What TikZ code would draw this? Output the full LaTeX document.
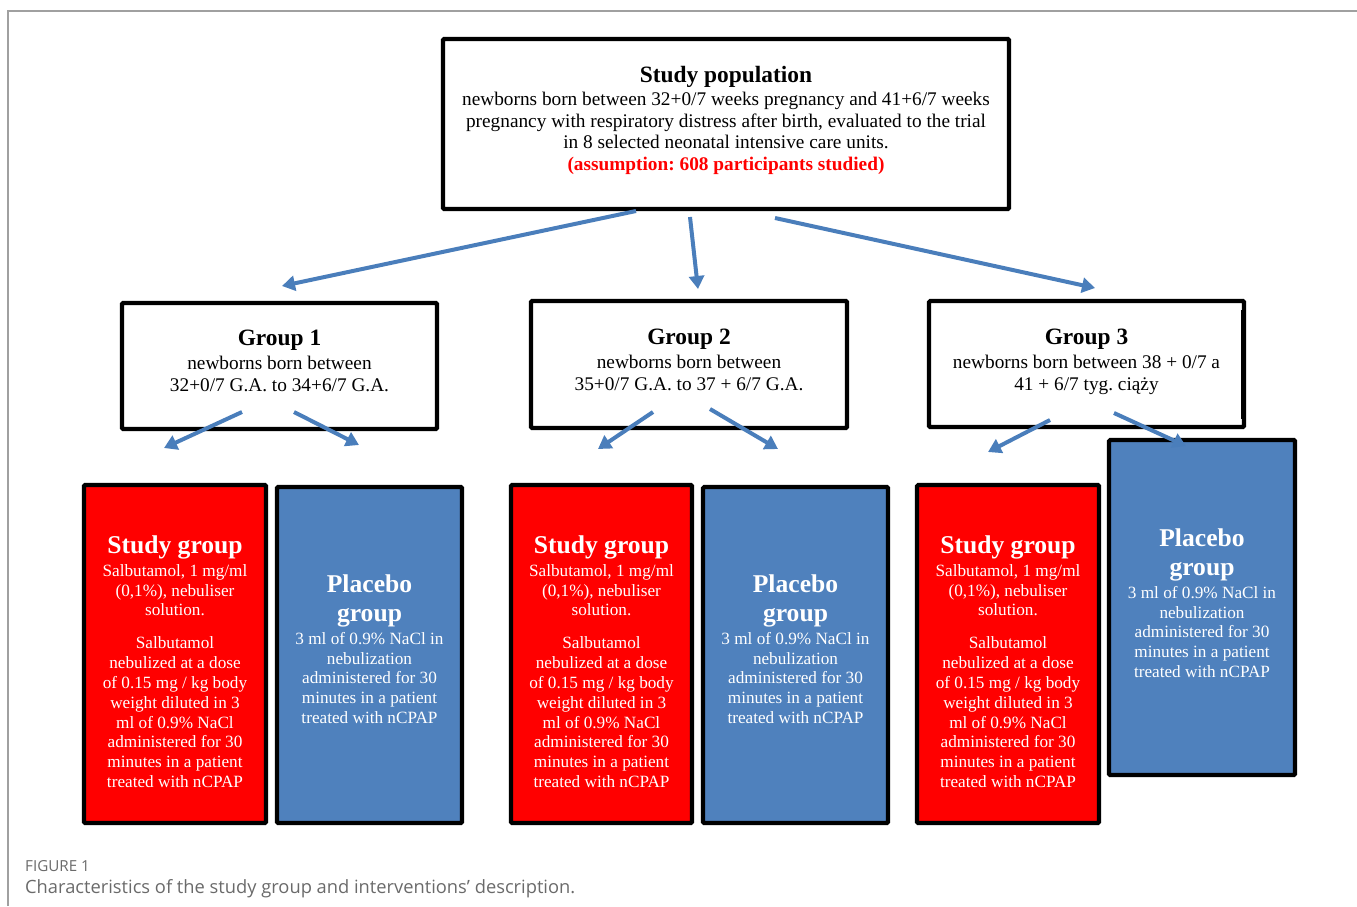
\documentclass[tikz,border=0pt]{standalone}
\usepackage{fontspec}
\setmainfont{Liberation Serif}
\newfontfamily\capfont{Open Sans}
\usetikzlibrary{arrows.meta,calc}
\definecolor{pblue}{HTML}{4F81BD}
\definecolor{ablue}{HTML}{4A7EBB}
\definecolor{sred}{HTML}{FF0000}
\definecolor{framegray}{HTML}{A0A0A0}
\definecolor{capgray}{HTML}{6A6A6A}
\newcommand\ttlA[1]{{\bfseries\fontsize{23.4}{26}\selectfont #1}}
\newcommand\ttlB[1]{{\bfseries\fontsize{25.6}{29}\selectfont #1}}
\frenchspacing
\begin{document}
\begin{tikzpicture}[x=1pt,y=-1pt,
  box/.style={draw=black,line width=4.2pt,rounded corners=1.2pt,inner sep=0pt},
  whitebox/.style={box,fill=white},
  redbox/.style={box,fill=sred},
  bluebox/.style={box,fill=pblue},
  toptxt/.style={align=center,inner sep=0pt,anchor=north,font=\fontsize{19.3}{21.7}\selectfont},
  lowtxt/.style={align=center,inner sep=0pt,anchor=north,text=white,font=\fontsize{17.2}{19.8}\selectfont},
  conn/.style={draw=ablue,line width=4pt,-{Triangle[length=13pt,width=15pt]}},
]
\useasboundingbox (0,0) rectangle (1357,906);
% frame
\draw[framegray,line width=1.3pt] (8,906) -- (8,11) -- (1357,11);

% boxes
\node[whitebox,minimum width=566pt,minimum height=170pt] (top) at (726,124) {};
\node[whitebox,minimum width=315pt,minimum height=126pt] (g1) at (279.5,366) {};
\node[whitebox,minimum width=316pt,minimum height=127pt] (g2) at (689,364.5) {};
\node[whitebox,minimum width=315pt,minimum height=126pt] (g3) at (1086.5,364) {};
\draw[line width=2pt] (1241.5,310) -- (1241.5,419);

\node[redbox,minimum width=182pt,minimum height=338pt] (s1) at (175,654) {};
\node[bluebox,minimum width=185pt,minimum height=336pt] (p1) at (369.5,655) {};
\node[redbox,minimum width=181pt,minimum height=338pt] (s2) at (601.5,654) {};
\node[bluebox,minimum width=185pt,minimum height=336pt] (p2) at (795.5,655) {};
\node[redbox,minimum width=182pt,minimum height=338pt] (s3) at (1008,654) {};
\node[bluebox,minimum width=186pt,minimum height=335pt] (p3) at (1202,607.5) {};

% texts
\node[toptxt] (topT) at (726,65.6) {\ttlA{Study population}\\[1.6pt]
newborns born between 32+0/7 weeks pregnancy and 41+6/7 weeks\\
pregnancy with respiratory distress after birth, evaluated to the trial\\
in 8 selected neonatal intensive care units.\\
{\color{sred}\bfseries (assumption: 608 participants studied)}};

\node[toptxt] (g1T) at (279.5,330) {\ttlA{Group 1}\\[2.3pt]
newborns born between\\ 32+0/7 G.A. to 34+6/7 G.A.};
\node[toptxt] (g2T) at (689,329) {\ttlA{Group 2}\\[2.3pt]
newborns born between\\ 35+0/7 G.A. to 37 + 6/7 G.A.};
\node[toptxt] (g3T) at (1086.5,329) {\ttlA{Group 3}\\[2.3pt]
newborns born between 38 + 0/7 a\\ 41 + 6/7 tyg. ciąży};

\foreach \n/\x in {s1T/175,s2T/601.5,s3T/1008}{
\node[lowtxt] (\n) at (\x,535.6) {\ttlB{Study group}\\[2.9pt]
Salbutamol, 1 mg/ml\\ (0,1\%), nebuliser\\ solution.\\[13.2pt]
Salbutamol\\ nebulized at a dose\\ of 0.15 mg / kg body\\ weight diluted in 3\\
ml of 0.9\% NaCl\\ administered for 30\\ minutes in a patient\\ treated with nCPAP};
}
\foreach \n/\x/\y in {p1T/369.5/575,p2T/795.5/575,p3T/1202/529}{
\node[lowtxt] (\n) at (\x,\y) {\ttlB{Placebo}\\[9.2pt]\ttlB{group}\\[2.5pt]
3 ml of 0.9\% NaCl in\\ nebulization\\ administered for 30\\ minutes in a patient\\ treated with nCPAP};
}

% connector end points
\coordinate (a1s) at (636,211); \coordinate (a1e) at (282,286);
\coordinate (a2s) at (690,217); \coordinate (a2e) at (698,289);
\coordinate (a3s) at (775,218); \coordinate (a3e) at (1095,288);
\coordinate (b1s) at (242,412); \coordinate (b1e) at (164,448);
\coordinate (b2s) at (294,412); \coordinate (b2e) at (359,445);
\coordinate (b3s) at (653,412); \coordinate (b3e) at (598,449);
\coordinate (b4s) at (710,409); \coordinate (b4e) at (778,449);
\coordinate (b5s) at (1050,420); \coordinate (b5e) at (988,452);
\coordinate (b6s) at (1114,413); \coordinate (b6e) at (1186,446);
\foreach \a in {a1,a2,a3,b1,b2,b3,b4,b5,b6}{\draw[conn] (\a s) -- (\a e);}

% caption
\node[anchor=west,inner sep=0pt,text=capgray,font=\capfont\fontsize{15.2}{17}\selectfont] (figlab) at (25,866) {FIGURE 1};
\node[anchor=west,inner sep=0pt,text=capgray,font=\capfont\fontsize{18.3}{21}\selectfont] (figcap) at (25,889) {Characteristics of the study group and interventions’ description.};
\end{tikzpicture}
\end{document}
